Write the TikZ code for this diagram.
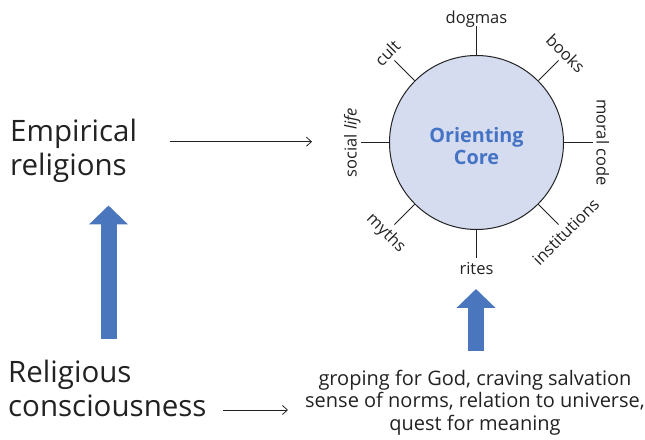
\documentclass[tikz,border=0pt]{standalone}
\usepackage{fontspec}
\setmainfont{Open Sans}
\usetikzlibrary{arrows.meta,calc}
\definecolor{blk}{HTML}{222222}
\definecolor{blockblue}{HTML}{4A76BE}
\definecolor{corefill}{HTML}{D5DCEF}
\definecolor{coretext}{HTML}{4472C4}
\begin{document}
\begin{tikzpicture}[x=1pt,y=1pt,
  bigtext/.style={font=\fontsize{29.5}{34}\selectfont, text=blk, align=left, inner sep=0pt},
  midtext/.style={font=\fontsize{20}{22.5}\selectfont, text=blk, align=center, inner sep=0pt},
  lbl/.style={font=\fontsize{16.5}{19}\selectfont, text=blk, inner sep=0pt},
  spoke/.style={draw=blk, line width=1pt},
  thinarr/.style={draw=blk, line width=0.8pt, -{Straight Barb[length=5pt,width=9pt]}},
  blockarr/.style={draw=blockblue, line width=16pt, -{Triangle[length=19pt,width=38pt]}},
  coretxt/.style={font=\fontsize{19.8}{21.5}\selectfont\bfseries, text=coretext, align=center, inner sep=0pt},
]
\useasboundingbox (0,0) rectangle (645,439);

% core circle
\node[circle, draw=blk, line width=1pt, fill=corefill, minimum size=174pt, inner sep=0pt]
      (core) at (476.5,296.5) {};
\node[coretxt] (coretext) at ($(core.center)+(0,-3.5)$) {Orienting\\Core};

% spokes
\foreach \a in {90,45,0,-45,-90,-135,180,135} {
  \coordinate (sp\a) at ($(core.center)+(\a:116)$);
  \draw[spoke] (core.\a) -- (sp\a);
}

% spoke labels
\path (core.center) ++(90:119) node[lbl, anchor=base] (ldogmas) {dogmas};
\path (core.center) ++(45:120) node[lbl, anchor=base, rotate=-45] (lbooks) {books};
\path (core.center) ++(0:120) node[lbl, anchor=base, rotate=-90] (lmoral) {moral code};
\path (core.center) ++(-45:120) node[lbl, anchor=north, rotate=45] (linst) {institutions};
\path (core.center) ++(-90:120) node[lbl, anchor=north] (lrites) {rites};
\path (core.center) ++(-135:120) node[lbl, anchor=north, rotate=-45] (lmyths) {myths};
\path (core.center) ++(180:120) node[lbl, anchor=base, rotate=90] (lsocial) {social \textit{life}};
\path (core.center) ++(135:120) node[lbl, anchor=base, rotate=45] (lcult) {cult};

% left texts (base = last line)
\node[bigtext, anchor=base west] (emp) at (10,263) {Empirical\\religions};
\node[bigtext, anchor=base west] (rel) at (8,23) {Religious\\consciousness};

% bottom right text
\node[midtext, anchor=base] (quest) at (475,9) {groping for God, craving salvation\\sense of norms, relation to universe,\\quest for meaning};

% thin arrows
\coordinate (a1s) at (170,297.3);
\coordinate (a1e) at (312,297.3);
\draw[thinarr] (a1s) -- (a1e);
\coordinate (a2s) at (223,29);
\coordinate (a2e) at (288,29);
\draw[thinarr] (a2s) -- (a2e);

% block arrows
\coordinate (b1s) at (108.5,100);
\coordinate (b1e) at (108.5,233.5);
\draw[blockarr] (b1s) -- (b1e);
\coordinate (b2s) at (476,88);
\coordinate (b2e) at (476,150);
\draw[blockarr] (b2s) -- (b2e);
\end{tikzpicture}
\end{document}
